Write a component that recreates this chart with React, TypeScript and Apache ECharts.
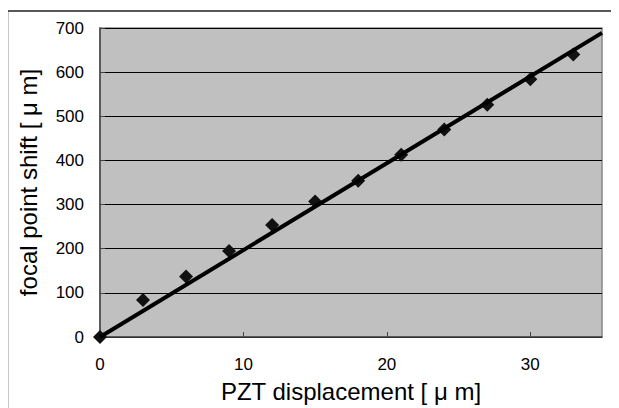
import React, { useEffect, useRef } from "react";
import * as echarts from "echarts";

const xValues = [0, 3, 6, 9, 12, 15, 18, 21, 24, 27, 30, 33];
const yValues = [0, 84, 137, 195, 254, 307, 354, 413, 470, 526, 584, 640];
const fitX = [0, 35];
const fitY = [0, 689];
const xTitle = "PZT displacement [ μ m]";
const yTitle = "focal point shift [ μ m]";

const FONT = "'Liberation Sans', Arial, sans-serif";

export default function App() {
  const ref = useRef<HTMLDivElement>(null);
  useEffect(() => {
    if (!ref.current) return;
    const chart = echarts.init(ref.current, undefined, { renderer: "svg" });
    chart.setOption({
      animation: false,
      backgroundColor: "#ffffff",
      graphic: [
        {
          type: "rect",
          shape: { x: 1.5, y: 3, width: 700, height: 500 },
          style: { fill: "none", stroke: "#222", lineWidth: 1.5 },
          z: 100,
        },
      ],
      grid: {
        left: 94,
        top: 20,
        right: 17,
        bottom: 68,
        show: true,
        backgroundColor: "#c0c0c0",
        borderColor: "#888888",
        borderWidth: 1.5,
      },
      xAxis: {
        type: "value",
        min: 0,
        max: 35,
        interval: 10,
        name: xTitle,
        nameLocation: "middle",
        nameGap: 42,
        nameTextStyle: { fontSize: 24, color: "#000", fontFamily: FONT },
        axisLine: { show: true, lineStyle: { color: "#444", width: 1.5 } },
        axisTick: { show: true, inside: true, length: 5, lineStyle: { color: "#444" } },
        axisLabel: { showMaxLabel: false, margin: 19, fontSize: 17, color: "#000", fontFamily: FONT },
        splitLine: { show: false },
      },
      yAxis: {
        type: "value",
        min: 0,
        max: 700,
        interval: 100,
        name: yTitle,
        nameLocation: "middle",
        nameRotate: 90,
        nameGap: 60,
        nameTextStyle: { fontSize: 24, color: "#000", fontFamily: FONT },
        axisLine: { show: true, lineStyle: { color: "#444", width: 1.5 } },
        axisTick: { show: true, inside: true, length: 5, lineStyle: { color: "#444" } },
        axisLabel: { margin: 16, fontSize: 17, color: "#000", fontFamily: FONT },
        splitLine: { show: true, lineStyle: { color: "#000", width: 1 } },
      },
      series: [
        {
          type: "scatter",
          data: xValues.map((x, i) => [x, yValues[i]]),
          symbol: "diamond",
          symbolSize: 14,
          itemStyle: { color: "#111", opacity: 1 },
          clip: false,
          z: 2,
        },
        {
          type: "line",
          data: fitX.map((x, i) => [x, fitY[i]]),
          showSymbol: false,
          symbol: "none",
          lineStyle: { color: "#000", width: 4 },
          clip: false,
          z: 3,
        },
      ],
    });
    return () => chart.dispose();
  }, []);
  return <div ref={ref} style={{ width: 613, height: 400, marginLeft: -2 }} />;
}
